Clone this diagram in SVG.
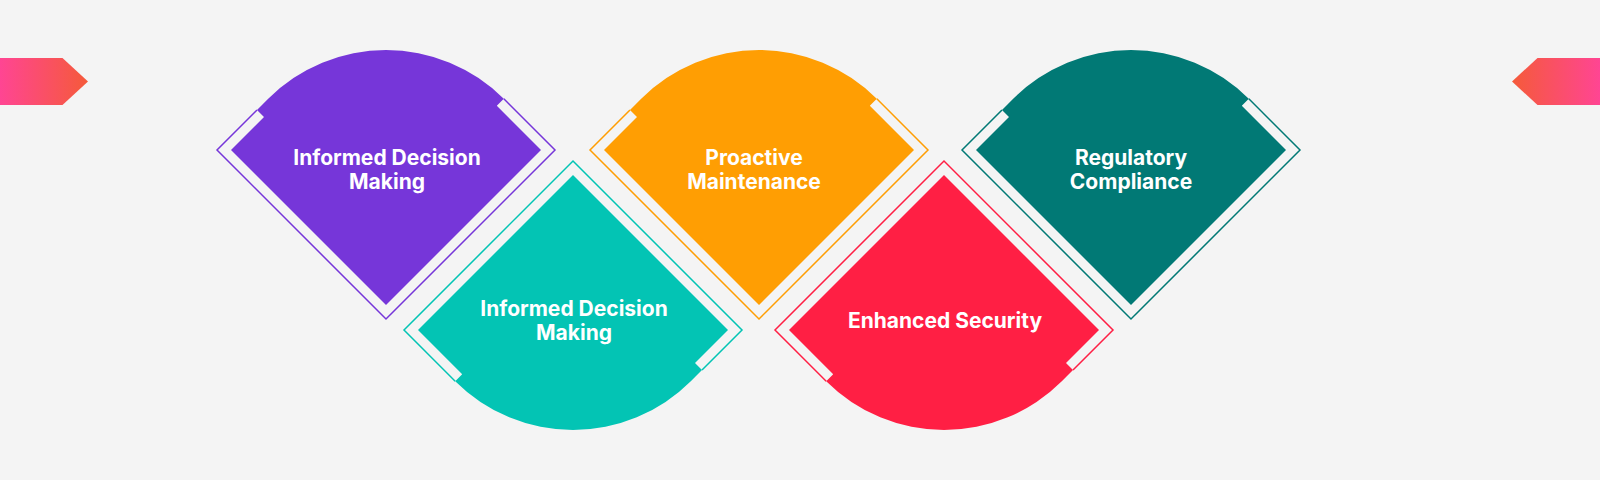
<svg xmlns="http://www.w3.org/2000/svg" width="1600" height="480" viewBox="0 0 1600 480">
  <defs>
    <linearGradient id="gL" x1="0" y1="0" x2="1" y2="0">
      <stop offset="0" stop-color="#FF4593"/>
      <stop offset="1" stop-color="#F55A3A"/>
    </linearGradient>
    <linearGradient id="gR" x1="0" y1="0" x2="1" y2="0">
      <stop offset="0" stop-color="#F55A3A"/>
      <stop offset="1" stop-color="#FF4593"/>
    </linearGradient>
    <path id="fillShape" d="M -155 0 L -122 -33 L -129 -40 L -117.8 -51.2 A 166.6 166.6 0 0 1 117.8 -51.2 L 110.8 -44.2 L 155 0 L 0 155 Z"/>
    <path id="outlineShape" d="M -129 -40 L -169 0 L 0 169 L 169 0 L 117.8 -51.2"/>
  </defs>
  <style>
    .outline { fill: none; stroke-width: 1.5; stroke-linejoin: miter; stroke-miterlimit: 10; }
    .label { font-family: Inter, "Noto Sans", "Liberation Sans", sans-serif; font-weight: 700; font-size: 21px; fill: #FFFFFF; text-anchor: middle; }
  </style>
  <rect width="1600" height="480" fill="#F4F4F4"/>

  <g id="connectors">
    <polygon points="0,58 62.5,58 88,81.5 62.5,105 0,105" fill="url(#gL)"/>
    <polygon points="1600,58 1537.5,58 1512,81.5 1537.5,105 1600,105" fill="url(#gR)"/>
  </g>

  <g id="node-informed-decision-top">
    <g transform="translate(386,150)">
      <use href="#fillShape" fill="#7636D9"/>
      <use href="#outlineShape" class="outline" stroke="#7636D9"/>
    </g>
    <text class="label" x="387" y="165">Informed Decision</text>
    <text class="label" x="387" y="189">Making</text>
  </g>

  <g id="node-proactive-maintenance">
    <g transform="translate(759,150)">
      <use href="#fillShape" fill="#FF9E03"/>
      <use href="#outlineShape" class="outline" stroke="#FF9E03"/>
    </g>
    <text class="label" x="754" y="165">Proactive</text>
    <text class="label" x="754" y="189">Maintenance</text>
  </g>

  <g id="node-regulatory-compliance">
    <g transform="translate(1131,150)">
      <use href="#fillShape" fill="#017975"/>
      <use href="#outlineShape" class="outline" stroke="#017975"/>
    </g>
    <text class="label" x="1131" y="165">Regulatory</text>
    <text class="label" x="1131" y="189">Compliance</text>
  </g>

  <g id="node-informed-decision-bottom">
    <g transform="translate(573,330) rotate(180)">
      <use href="#fillShape" fill="#03C4B4"/>
      <use href="#outlineShape" class="outline" stroke="#03C4B4"/>
    </g>
    <text class="label" x="574" y="316">Informed Decision</text>
    <text class="label" x="574" y="340">Making</text>
  </g>

  <g id="node-enhanced-security">
    <g transform="translate(944,330) rotate(180)">
      <use href="#fillShape" fill="#FF1F44"/>
      <use href="#outlineShape" class="outline" stroke="#FF1F44"/>
    </g>
    <text class="label" x="945" y="327.5">Enhanced Security</text>
  </g>
</svg>
